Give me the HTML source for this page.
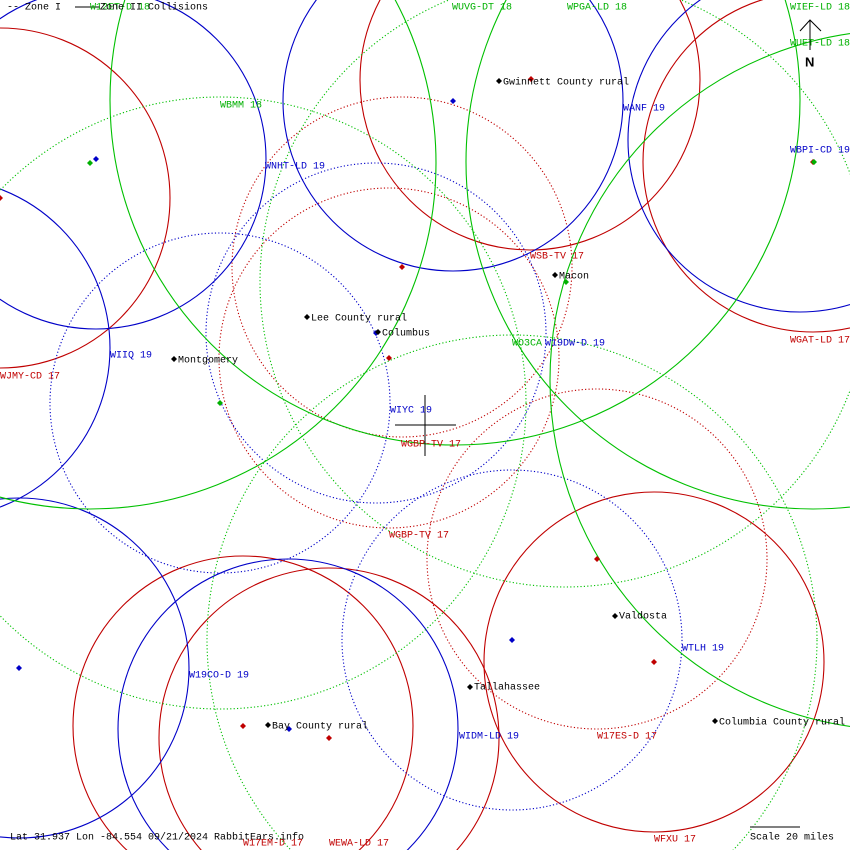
<!DOCTYPE html>
<html><head><meta charset="utf-8"><style>
html,body{margin:0;padding:0;background:#fff;width:850px;height:850px;overflow:hidden;}
svg{display:block;}
text{font-family:"Liberation Mono","DejaVu Sans Mono",monospace;font-size:10px;dominant-baseline:middle;}
.r{stroke:#c00000;fill:none;stroke-width:1.1}
.b{stroke:#0000c8;fill:none;stroke-width:1.1}
.g{stroke:#00c000;fill:none;stroke-width:1.1}
.d{stroke-dasharray:1.2 2.2}
.tr{fill:#c00000}.tb{fill:#0000c8}.tg{fill:#00b000}.tk{fill:#000}
</style></head><body>
<svg width="850" height="850" viewBox="0 0 850 850" xmlns="http://www.w3.org/2000/svg">
<rect width="850" height="850" fill="#fff"/>
<circle class="r" cx="0" cy="198" r="170"/>
<circle class="r" cx="530" cy="80" r="170"/>
<circle class="r" cx="813" cy="162" r="170"/>
<circle class="r" cx="654" cy="662" r="170"/>
<circle class="r" cx="243" cy="726" r="170"/>
<circle class="r" cx="329" cy="738" r="170"/>
<circle class="r d" cx="402" cy="267" r="170"/>
<circle class="r d" cx="389" cy="358" r="170"/>
<circle class="r d" cx="597" cy="559" r="170"/>
<circle class="b" cx="96" cy="159" r="170"/>
<circle class="b" cx="453" cy="101" r="170"/>
<circle class="b" cx="800" cy="140" r="172"/>
<circle class="b" cx="-60" cy="348" r="170"/>
<circle class="b" cx="19" cy="668" r="170"/>
<circle class="b" cx="288" cy="729" r="170"/>
<circle class="b d" cx="376" cy="333" r="170"/>
<circle class="b d" cx="220" cy="403" r="170"/>
<circle class="b d" cx="512" cy="640" r="170"/>
<circle class="g" cx="455" cy="100" r="345"/>
<circle class="g" cx="90" cy="163" r="346"/>
<circle class="g" cx="813" cy="162" r="347"/>
<circle class="g" cx="900" cy="380" r="350"/>
<circle class="g d" cx="220" cy="403" r="306"/>
<circle class="g d" cx="565" cy="282" r="305"/>
<circle class="g d" cx="512" cy="640" r="305"/>
<line x1="395" y1="425" x2="456" y2="425" stroke="#000"/>
<line x1="425" y1="395" x2="425" y2="456" stroke="#000"/>
<line x1="810" y1="20" x2="810" y2="50" stroke="#000"/>
<polyline points="800,31 810,20 821,31" fill="none" stroke="#000"/>
<text x="805" y="63" class="tk" style="font-weight:bold;font-family:'Liberation Sans',sans-serif;font-size:13px">N</text>
<line x1="750" y1="827" x2="800" y2="827" stroke="#000"/>
<text x="750" y="837" class="tk">Scale 20 miles</text>
<text x="10" y="837" class="tk">Lat 31.937 Lon -84.554 09/21/2024 RabbitEars.info</text>
<text x="7" y="7" class="tk">--  Zone I</text>
<line x1="75" y1="7" x2="100" y2="7" stroke="#000"/>
<text x="90" y="7" class="tg">W12ET-D 18</text>
<text x="100" y="7" class="tk">Zone II Collisions</text>
<g>
<path d="M0,195l3,3l-3,3l-3,-3z" class="tr"/>
<path d="M90,160l3,3l-3,3l-3,-3z" class="tg"/>
<path d="M96,156l3,3l-3,3l-3,-3z" class="tb"/>
<path d="M453,98l3,3l-3,3l-3,-3z" class="tb"/>
<path d="M531,76l3,3l-3,3l-3,-3z" class="tr"/>
<path d="M402,264l3,3l-3,3l-3,-3z" class="tr"/>
<path d="M389,355l3,3l-3,3l-3,-3z" class="tr"/>
<path d="M376,330l3,3l-3,3l-3,-3z" class="tb"/>
<path d="M220,400l3,3l-3,3l-3,-3z" class="tg"/>
<path d="M566,279l3,3l-3,3l-3,-3z" class="tg"/>
<path d="M813,159l3,3l-3,3l-3,-3z" class="tr"/>
<path d="M814,159l3,3l-3,3l-3,-3z" class="tg"/>
<path d="M597,556l3,3l-3,3l-3,-3z" class="tr"/>
<path d="M512,637l3,3l-3,3l-3,-3z" class="tb"/>
<path d="M654,659l3,3l-3,3l-3,-3z" class="tr"/>
<path d="M19,665l3,3l-3,3l-3,-3z" class="tb"/>
<path d="M243,723l3,3l-3,3l-3,-3z" class="tr"/>
<path d="M289,726l3,3l-3,3l-3,-3z" class="tb"/>
<path d="M329,735l3,3l-3,3l-3,-3z" class="tr"/>
</g>
<g class="tk">
<path d="M499,78l3,3l-3,3l-3,-3z"/><text x="503" y="82">Gwinnett County rural</text>
<path d="M555,272l3,3l-3,3l-3,-3z"/><text x="559" y="276">Macon</text>
<path d="M307,314l3,3l-3,3l-3,-3z"/><text x="311" y="318">Lee County rural</text>
<path d="M378,329l3,3l-3,3l-3,-3z"/><text x="382" y="333">Columbus</text>
<path d="M174,356l3,3l-3,3l-3,-3z"/><text x="178" y="360">Montgomery</text>
<path d="M615,613l3,3l-3,3l-3,-3z"/><text x="619" y="616">Valdosta</text>
<path d="M470,684l3,3l-3,3l-3,-3z"/><text x="474" y="687">Tallahassee</text>
<path d="M268,722l3,3l-3,3l-3,-3z"/><text x="272" y="726">Bay County rural</text>
<path d="M715,718l3,3l-3,3l-3,-3z"/><text x="719" y="722">Columbia County rural</text>
</g>
<text x="452" y="7" class="tg">WUVG-DT 18</text>
<text x="567" y="7" class="tg">WPGA-LD 18</text>
<text x="790" y="7" class="tg">WIEF-LD 18</text>
<text x="790" y="43" class="tg">WUET-LD 18</text>
<text x="220" y="105" class="tg">WBMM 18</text>
<text x="623" y="108" class="tb">WANF 19</text>
<text x="790" y="150" class="tb">WBPI-CD 19</text>
<text x="265" y="166" class="tb">WNHT-LD 19</text>
<text x="530" y="256" class="tr">WSB-TV 17</text>
<text x="790" y="340" class="tr">WGAT-LD 17</text>
<text x="512" y="343" class="tg">WO3CA</text>
<text x="545" y="343" class="tb">W19DW-D 19</text>
<text x="110" y="355" class="tb">WIIQ 19</text>
<text x="0" y="376" class="tr">WJMY-CD 17</text>
<text x="390" y="410" class="tb">WIYC 19</text>
<text x="401" y="444" class="tr">WGBP-TV 17</text>
<text x="389" y="535" class="tr">WGBP-TV 17</text>
<text x="682" y="648" class="tb">WTLH 19</text>
<text x="189" y="675" class="tb">W19CO-D 19</text>
<text x="459" y="736" class="tb">WIDM-LD 19</text>
<text x="597" y="736" class="tr">W17ES-D 17</text>
<text x="654" y="839" class="tr">WFXU 17</text>
<text x="243" y="843" class="tr">W17EM-D 17</text>
<text x="329" y="843" class="tr">WEWA-LD 17</text>
</svg>
</body></html>
